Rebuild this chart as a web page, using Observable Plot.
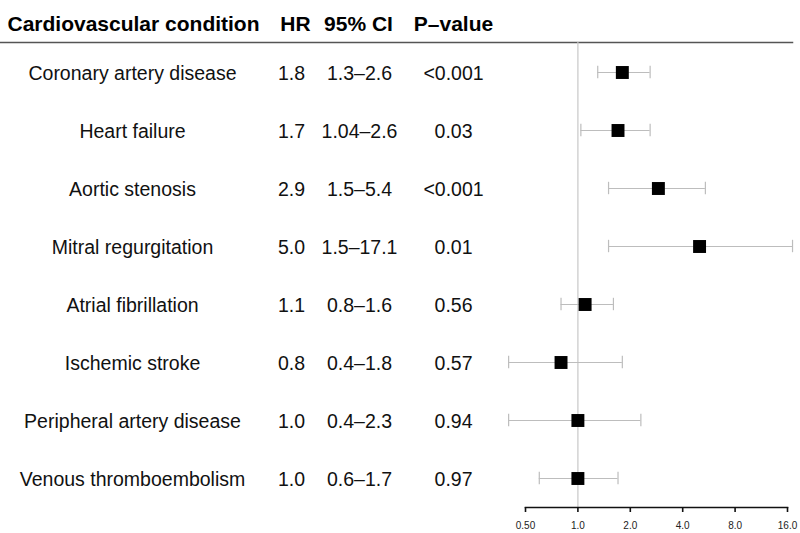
<!DOCTYPE html>
<html>
<head>
<meta charset="utf-8">
<script src="https://cdn.jsdelivr.net/npm/d3@7"></script>
<script src="https://cdn.jsdelivr.net/npm/@observablehq/plot@0.6"></script>
<style>
  html, body { margin: 0; padding: 0; background: #fff; overflow: hidden; }
  #chart { position: absolute; left: 0; top: 0; width: 800px; height: 533px; overflow: hidden; }
  #chart svg { display: block; }
</style>
</head>
<body>
<div id="chart"></div>
<script>
// ---- data ----
const conditions = [
  "Coronary artery disease",
  "Heart failure",
  "Aortic stenosis",
  "Mitral regurgitation",
  "Atrial fibrillation",
  "Ischemic stroke",
  "Peripheral artery disease",
  "Venous thromboembolism"
];
const hr      = [1.8, 1.7, 2.9, 5.0, 1.1, 0.8, 1.0, 1.0];
const ciLow   = [1.3, 1.04, 1.5, 1.5, 0.8, 0.4, 0.4, 0.6];
const ciHigh  = [2.6, 2.6, 5.4, 17.1, 1.6, 1.8, 2.3, 1.7];
const hrText  = ["1.8", "1.7", "2.9", "5.0", "1.1", "0.8", "1.0", "1.0"];
const ciText  = ["1.3–2.6", "1.04–2.6", "1.5–5.4", "1.5–17.1", "0.8–1.6", "0.4–1.8", "0.4–2.3", "0.6–1.7"];
const pText   = ["<0.001", "0.03", "<0.001", "0.01", "0.56", "0.57", "0.94", "0.97"];
const headers = ["Cardiovascular condition", "HR", "95% CI", "P–value"];
const axisTicks  = [0.5, 1, 2, 4, 8, 16];
const axisLabels = ["0.50", "1.0", "2.0", "4.0", "8.0", "16.0"];

const rows = conditions.map((c, i) => ({
  condition: c, hr: hr[i], lo: ciLow[i], hi: ciHigh[i],
  hrText: hrText[i], ciText: ciText[i], pText: pText[i]
}));
const tickLabel = new Map(axisTicks.map((t, i) => [t, axisLabels[i]]));

// ---- layout ----
const W = 800, H = 533;
const mLeft = 525, mRight = 13, mTop = 42, mBottom = 26;
const colData   = [132, 291, 359, 453];   // centers of data columns
const colHeader = [133, 295, 358, 453];   // centers of header columns
const cols = ["condition", "hrText", "ciText", "pText"];

const textMarks = cols.map((k, j) =>
  Plot.text(rows, {
    y: "condition", text: k, frameAnchor: "left",
    dx: colData[j] - mLeft, dy: 1, textAnchor: "middle",
    fontSize: 19.5, fill: "#111"
  })
);
const headerMarks = headers.map((h, j) =>
  Plot.text([h], {
    text: d => d, frameAnchor: "top-left",
    dx: colHeader[j] - mLeft, dy: -26, textAnchor: "middle",
    fontSize: 21, fontWeight: "bold", fill: "#000"
  })
);

const chart = Plot.plot({
  width: W, height: H,
  marginLeft: mLeft, marginRight: mRight, marginTop: mTop, marginBottom: mBottom,
  style: { fontFamily: "'Liberation Sans', Arial, Helvetica, sans-serif" },
  x: { type: "log", base: 2, domain: [0.5, 16] },
  y: { type: "band", domain: conditions, padding: 0, axis: null },
  marks: [
    Plot.frame({ anchor: "top", insetLeft: -mLeft, insetRight: -5, stroke: "#555", strokeWidth: 1.5 }),
    Plot.ruleX([1], { stroke: "#c8c8c8", strokeWidth: 1.2 }),
    Plot.frame({ anchor: "bottom", stroke: "#111", strokeWidth: 1.6 }),
    Plot.axisX({
      ticks: axisTicks, tickFormat: d => tickLabel.get(d),
      tickSize: 5, tickPadding: 9, fontSize: 10, stroke: "#111", strokeWidth: 1.6,
      fill: "#222", label: null
    }),
    Plot.ruleY(rows, { y: "condition", x1: "lo", x2: "hi", stroke: "#bdbdbd", strokeWidth: 1.2 }),
    Plot.tickX(rows, { x: "lo", y: "condition", insetTop: 22.8, insetBottom: 22.8, stroke: "#bdbdbd", strokeWidth: 1.2 }),
    Plot.tickX(rows, { x: "hi", y: "condition", insetTop: 22.8, insetBottom: 22.8, stroke: "#bdbdbd", strokeWidth: 1.2 }),
    Plot.dot(rows, { x: "hr", y: "condition", symbol: "square", r: 7.3, fill: "#000", stroke: "none" }),
    ...textMarks,
    ...headerMarks
  ]
});
document.getElementById("chart").appendChild(chart);
</script>
</body>
</html>
